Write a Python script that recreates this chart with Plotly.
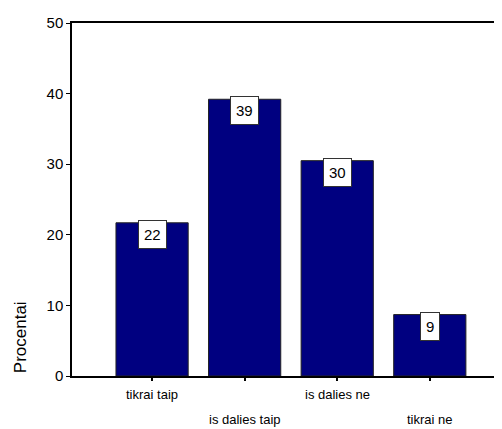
import plotly.graph_objects as go

categories = ["tikrai taip", "is dalies taip", "is dalies ne", "tikrai ne"]
values = [21.7, 39.2, 30.5, 8.7]
labels = ["22", "39", "30", "9"]
y_ticks = [0, 10, 20, 30, 40, 50]
y_title = "Procentai"

FONT = "Liberation Sans, Arial, sans-serif"
x_pos = list(range(len(categories)))

fig = go.Figure()
fig.add_trace(go.Bar(
    x=x_pos, y=values, width=0.78,
    marker=dict(color="#000080", line=dict(color="#222222", width=1)),
    hoverinfo="skip",
))

annotations = []
for xi, v, lab in zip(x_pos, values, labels):
    annotations.append(dict(
        x=xi, y=v, xref="x", yref="y", text=lab, showarrow=False,
        yanchor="top", yshift=3,
        font=dict(family=FONT, size=15, color="black"),
        bgcolor="white", bordercolor="#333333", borderwidth=1, borderpad=5,
    ))
for i, (xi, cat) in enumerate(zip(x_pos, categories)):
    annotations.append(dict(
        x=xi, y=0, xref="x", yref="y", text=cat, showarrow=False,
        yanchor="top", yshift=-9 if i % 2 == 0 else -34,
        font=dict(family=FONT, size=13, color="black"),
    ))
annotations.append(dict(
    x=0, y=0.11, xref="paper", yref="paper", text=y_title, showarrow=False,
    textangle=-90, xanchor="center", xshift=-52, yanchor="middle",
    font=dict(family=FONT, size=17, color="black"),
))

# the page body adds an 8px offset, so the figure is sized to fill the rest
fig.update_layout(
    width=494, height=421,
    margin=dict(l=64, r=0, t=15, b=53),
    paper_bgcolor="white", plot_bgcolor="white",
    showlegend=False,
    annotations=annotations,
    font=dict(family=FONT, color="black"),
    xaxis=dict(
        range=[-0.865, 3.78], tickvals=x_pos, ticktext=[""] * len(x_pos),
        ticks="outside", ticklen=3, tickcolor="black", tickwidth=2,
        showline=True, linecolor="black", linewidth=1.5, mirror=True,
        showgrid=False, zeroline=False,
    ),
    yaxis=dict(
        range=[0, 50], tickvals=y_ticks,
        ticks="outside", ticklen=4, tickcolor="black", tickwidth=1,
        showline=True, linecolor="black", linewidth=1.5,
        showgrid=False, zeroline=False,
        tickfont=dict(family=FONT, size=15, color="black"),
    ),
)

fig.write_html("out.html")
